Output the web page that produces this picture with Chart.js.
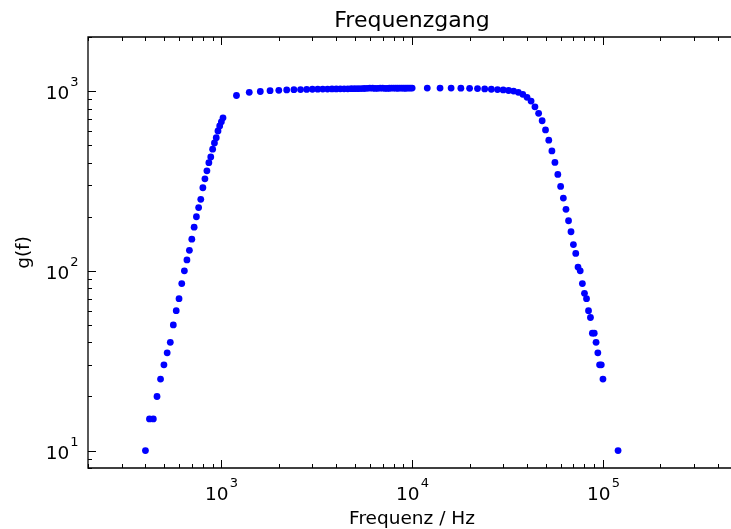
<!DOCTYPE html>
<html>
<head>
<meta charset="utf-8">
<script src="https://cdn.jsdelivr.net/npm/chart.js@4.4.0/dist/chart.umd.min.js"></script>
<style>
  html, body { margin: 0; padding: 0; background: #fff; overflow: hidden; }
  canvas { display: block; }
</style>
</head>
<body>
<canvas id="gangChart" width="731" height="529"></canvas>
<script>
// Messwerte: Anstieg (20 Hz Schritte)
const freqRise = [400, 420, 440, 460, 480, 500, 520, 540, 560, 580, 600, 620, 640, 660, 680, 700,
  720, 740, 760, 780, 800, 820, 840, 860, 880, 900, 920, 940, 960, 980, 1000, 1020];
const gainRise = [10, 15, 15, 20, 25, 30, 35, 40, 50, 60, 70, 85, 100, 115, 130, 150,
  175, 200, 225, 250, 290, 325, 360, 400, 430, 475, 515, 550, 600, 640, 675, 710];

// Plateau (200 Hz Schritte)
const freqFlat = [1200, 1400, 1600, 1800, 2000, 2200, 2400, 2600, 2800, 3000, 3200, 3400, 3600, 3800,
  4000, 4200, 4400, 4600, 4800, 5000, 5200, 5400, 5600, 5800, 6000, 6200, 6400, 6600, 6800, 7000,
  7200, 7400, 7600, 7800, 8000, 8200, 8400, 8600, 8800, 9000, 9200, 9400, 9600, 9800, 10000];
const gainFlat = [945, 985, 995, 1005, 1010, 1015, 1018, 1020, 1022, 1024, 1025, 1026, 1027, 1028,
  1028, 1029, 1030, 1030, 1031, 1031, 1032, 1033, 1034, 1036, 1040, 1038, 1035, 1036, 1040, 1038,
  1036, 1035, 1037, 1039, 1040, 1038, 1037, 1039, 1040, 1038, 1037, 1039, 1040, 1040, 1040];

// Abfall (2 kHz Schritte)
const freqFall = [12000, 14000, 16000, 18000, 20000, 22000, 24000, 26000, 28000, 30000, 32000,
  34000, 36000, 38000, 40000, 42000, 44000, 46000, 48000, 50000, 52000, 54000, 56000, 58000,
  60000, 62000, 64000, 66000, 68000, 70000, 72000, 74000, 76000, 78000, 80000, 82000, 84000,
  86000, 88000, 90000, 92000, 94000, 96000, 98000, 100000, 120000];
const gainFall = [1040, 1040, 1040, 1038, 1036, 1033, 1028, 1024, 1020, 1015, 1008,
  1000, 984, 959, 923, 880, 818, 752, 684, 608, 533, 465, 401, 344,
  295, 254, 220, 190, 165, 140, 125, 105, 100, 85, 75, 70, 60,
  55, 45, 45, 40, 35, 30, 30, 25, 10];

const xRange = [200, 450000];
const yRange = [8, 2000];
const xDecades = [100, 1000, 10000, 100000];
const yDecades = [1, 10, 100, 1000];

const points = [];
[[freqRise, gainRise], [freqFlat, gainFlat], [freqFall, gainFall]].forEach(([fs, gs]) => {
  fs.forEach((f, i) => points.push({ x: f, y: gs[i] }));
});

function tickList(decades, lo, hi) {
  const out = [];
  decades.forEach(d => {
    for (let m = 1; m <= 9; m++) {
      const v = d * m;
      if (v >= lo && v <= hi) out.push({ v: v, major: m === 1 });
    }
  });
  return out;
}

const FONT = '"DejaVu Sans", "Liberation Sans", sans-serif';

function powLabel(ctx, exp, x, baseY, align) {
  ctx.font = '18.5px ' + FONT;
  const wBase = ctx.measureText('10').width;
  ctx.font = '13px ' + FONT;
  const wExp = ctx.measureText(String(exp)).width;
  const total = wBase + 1 + wExp;
  const left = align === 'right' ? x - total : x - total / 2;
  ctx.textAlign = 'left';
  ctx.textBaseline = 'alphabetic';
  ctx.font = '18.5px ' + FONT;
  ctx.fillText('10', left, baseY);
  ctx.font = '13px ' + FONT;
  ctx.fillText(String(exp), left + wBase + 1, baseY - 13);
}

const mplAxes = {
  id: 'mplAxes',
  afterDraw(chart) {
    const { ctx, chartArea: a, scales } = chart;
    const sx = scales.x, sy = scales.y;
    ctx.save();
    ctx.strokeStyle = '#000';
    ctx.fillStyle = '#000';
    ctx.lineWidth = 1;

    const line = (x1, y1, x2, y2) => {
      ctx.beginPath(); ctx.moveTo(x1, y1); ctx.lineTo(x2, y2); ctx.stroke();
    };

    tickList(xDecades, xRange[0], xRange[1]).forEach(t => {
      const px = Math.round(sx.getPixelForValue(t.v)) + 0.5;
      const len = t.major ? 8 : 4;
      line(px, a.bottom, px, a.bottom - len);
      line(px, a.top, px, a.top + len);
      if (t.major) powLabel(ctx, Math.round(Math.log10(t.v)), px, 500, 'center');
    });
    tickList(yDecades, yRange[0], yRange[1]).forEach(t => {
      const py = Math.round(sy.getPixelForValue(t.v)) + 0.5;
      const len = t.major ? 8 : 4;
      line(a.left, py, a.left + len, py);
      if (t.major) powLabel(ctx, Math.round(Math.log10(t.v)), 78.5, py + 7.3, 'right');
    });

    // Rahmen (rechts vom Bildrand abgeschnitten)
    ctx.lineWidth = 1.3;
    ctx.beginPath();
    ctx.moveTo(chart.width, a.top);
    ctx.lineTo(a.left, a.top);
    ctx.lineTo(a.left, a.bottom);
    ctx.lineTo(chart.width, a.bottom);
    ctx.stroke();

    // Titel und Achsenbeschriftung
    ctx.textAlign = 'center';
    ctx.textBaseline = 'alphabetic';
    ctx.font = '22px ' + FONT;
    ctx.fillText('Frequenzgang', 412, 27);
    ctx.font = '18.5px ' + FONT;
    ctx.fillText('Frequenz / Hz', 412, 524);
    ctx.save();
    ctx.translate(29, (a.top + a.bottom) / 2);
    ctx.rotate(-Math.PI / 2);
    ctx.fillText('g(f)', 0, 0);
    ctx.restore();
    ctx.restore();
  }
};

new Chart(document.getElementById('gangChart').getContext('2d'), {
  type: 'scatter',
  data: {
    datasets: [{
      label: 'g(f)',
      data: points,
      backgroundColor: '#0000ff',
      borderWidth: 0,
      pointRadius: 3.4,
      pointHoverRadius: 3.4
    }]
  },
  options: {
    responsive: false,
    animation: false,
    events: [],
    layout: { padding: { left: 88, top: 37, right: 0, bottom: 61 } },
    plugins: { legend: { display: false }, tooltip: { enabled: false }, title: { display: false } },
    scales: {
      x: { type: 'logarithmic', min: xRange[0], max: xRange[1], display: false },
      y: { type: 'logarithmic', min: yRange[0], max: yRange[1], display: false }
    }
  },
  plugins: [mplAxes]
});
</script>
</body>
</html>
